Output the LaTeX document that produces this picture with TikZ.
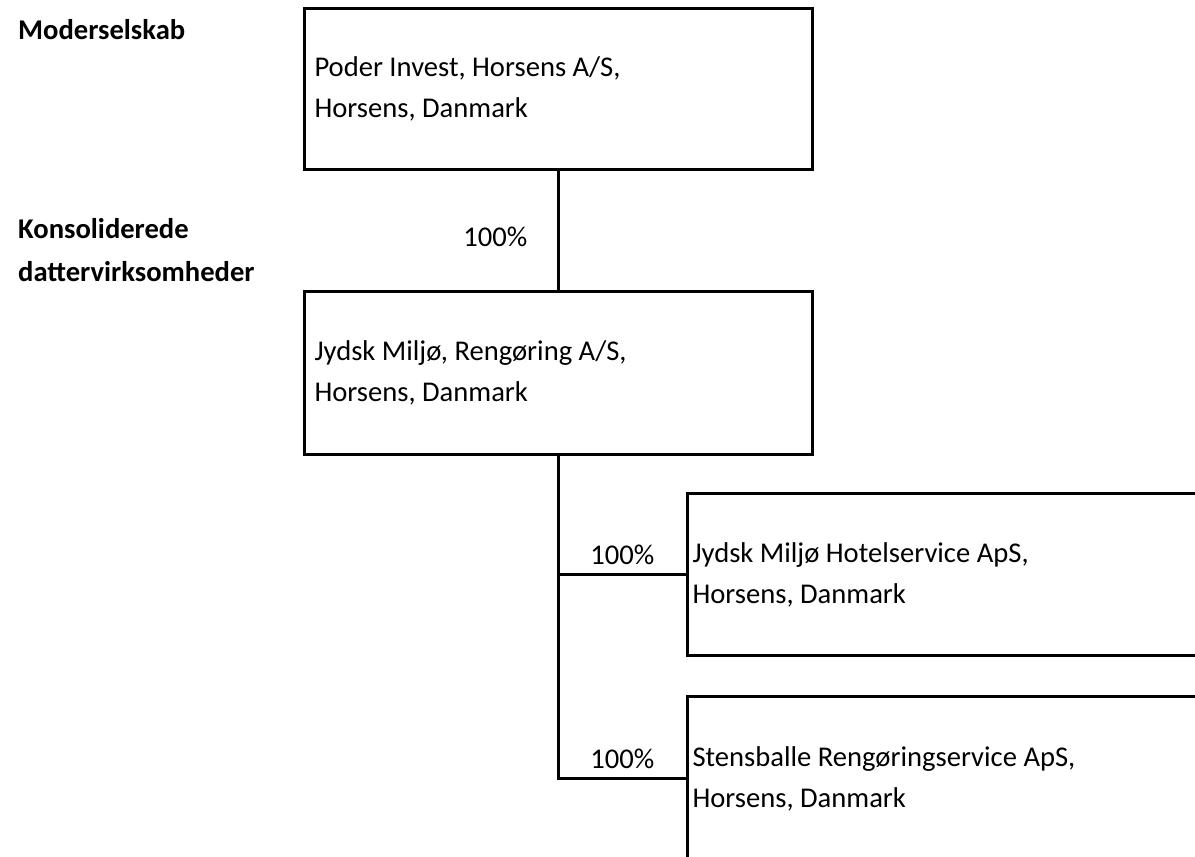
\documentclass[tikz,border=0pt]{standalone}
\usepackage{fontspec}
\setmainfont{Carlito}
\begin{document}
\begin{tikzpicture}[x=1pt,y=-1pt,
  every node/.style={font=\fontsize{28.6}{41}\selectfont},
  orgbox/.style={draw=black, line width=3pt, anchor=north west, minimum width=508pt, minimum height=162pt, text width=488pt, inner xsep=10pt, align=flush left},
  conn/.style={draw=black, line width=2.6pt},
  pct/.style={inner sep=0pt}]
\useasboundingbox (0,0) rectangle (1195,857);
\clip (0,0) rectangle (1195,857);
\fill[white] (0,0) rectangle (1195,857);
% left labels
\node[anchor=west, inner sep=0pt, font=\fontsize{28.6}{41}\selectfont\bfseries] (lm) at (18,30) {Moderselskab};
\node[anchor=west, inner sep=0pt, align=flush left, font=\fontsize{28.6}{43}\selectfont\bfseries] (lk) at (18,250.5) {Konsoliderede\\dattervirksomheder};
% boxes
\node[orgbox, minimum height=161pt] (p) at (303,7) {Poder Invest, Horsens A/S,\\Horsens, Danmark};
\node[orgbox, minimum height=163pt] (j) at (303,290) {Jydsk Milj\o, Reng\o ring A/S,\\Horsens, Danmark};
\node[orgbox, minimum width=540pt, text width=530pt, inner xsep=5pt] (h) at (686,492) {Jydsk Milj\o\ Hotelservice ApS,\\Horsens, Danmark};
\node[orgbox, minimum width=540pt, text width=530pt, inner xsep=5pt, minimum height=164pt] (s) at (686,695) {Stensballe Reng\o ringservice ApS,\\Horsens, Danmark};
% connectors
\draw[conn] (p.south) -- node[pct, pos=0.557, anchor=east, xshift=-30pt] (l1) {100\%} (j.north);
\coordinate (jb) at (j.south);
\draw[conn] (jb) -- (jb |- h.west) -- node[pct, midway, above=8pt] (l2) {100\%} (h.west);
\draw[conn] (jb |- h.west) -- (jb |- s.west) -- node[pct, midway, above=8pt] (l3) {100\%} (s.west);
\end{tikzpicture}
\end{document}
